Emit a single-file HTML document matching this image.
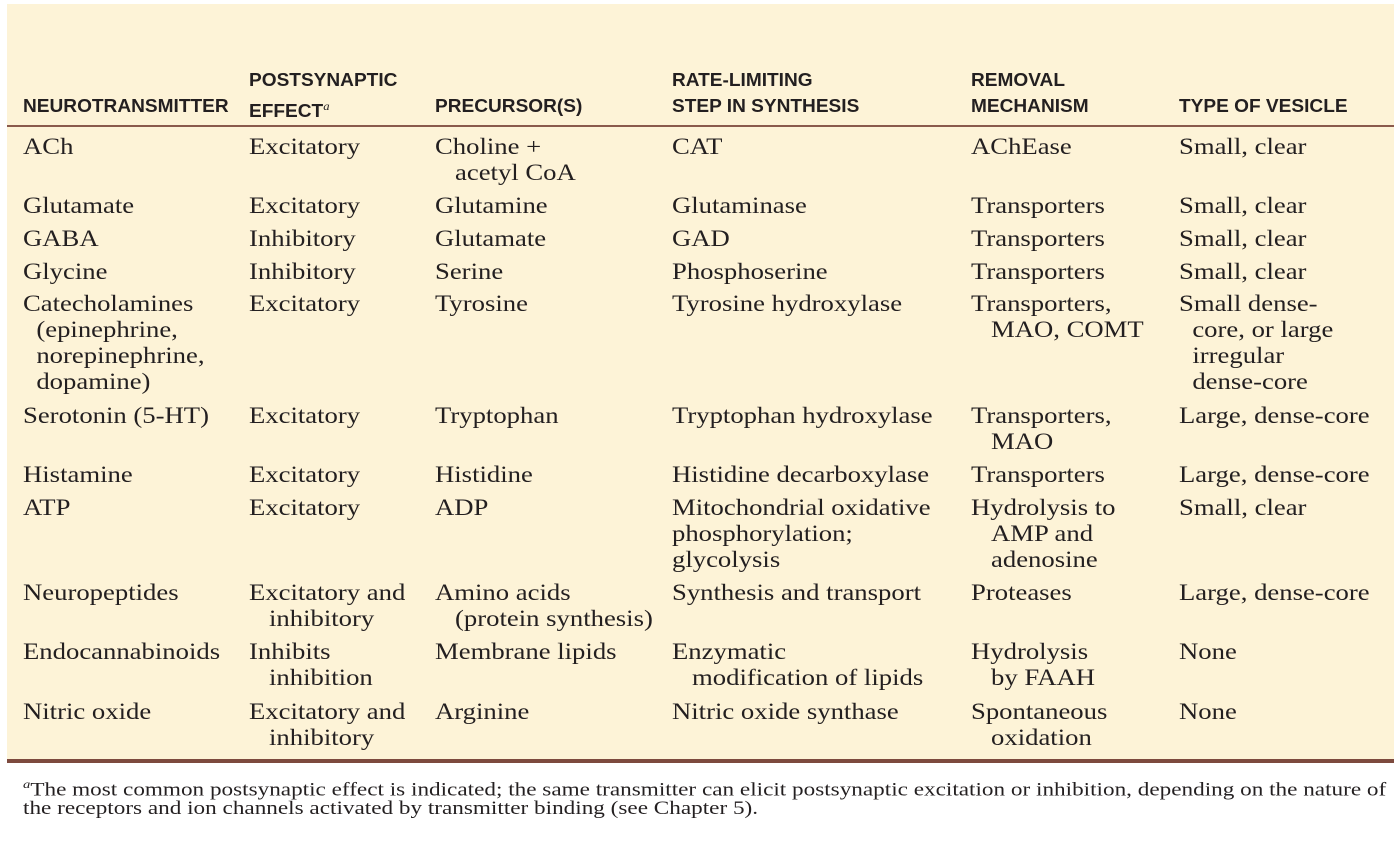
<!DOCTYPE html>
<html><head><meta charset="utf-8"><style>
body{margin:0;width:1400px;height:844px;background:#fff;position:relative;overflow:hidden;font-family:"Liberation Serif",serif;color:#222}
.bg{position:absolute;left:7px;top:4px;width:1387px;height:756px;background:#fdf3d7}
.h{position:absolute;font-family:"Liberation Sans",sans-serif;font-weight:bold;font-size:18px;line-height:26px;color:#231f20;white-space:nowrap;transform:scaleX(1.06);transform-origin:0 0}
.t{position:absolute;font-size:23px;line-height:26px;white-space:nowrap;color:#231f20;transform:scaleX(1.16);transform-origin:0 0}
.f{position:absolute;font-size:19px;line-height:23px;left:23px;white-space:nowrap;color:#231f20;transform:scaleX(1.22);transform-origin:0 0}
.l1{position:absolute;left:7px;top:125px;width:1387px;height:2px;background:#8a5a4c}
.l2{position:absolute;left:7px;top:759px;width:1387px;height:4px;background:#7d4a3e}
</style></head><body>
<div class="bg"></div>
<div class="h" style="left:23px;top:93px">NEUROTRANSMITTER</div>
<div class="h" style="left:249px;top:67px">POSTSYNAPTIC<br>EFFECT<sup style="font-size:12px;font-style:italic;font-weight:normal;font-family:'Liberation Serif',serif">a</sup></div>
<div class="h" style="left:435px;top:93px">PRECURSOR(S)</div>
<div class="h" style="left:672px;top:67px">RATE-LIMITING<br>STEP IN SYNTHESIS</div>
<div class="h" style="left:971px;top:67px">REMOVAL<br>MECHANISM</div>
<div class="h" style="left:1179px;top:93px">TYPE OF VESICLE</div>
<div class="l1"></div>

<div class="t" style="left:23px;top:134px">ACh</div>
<div class="t" style="left:249px;top:134px">Excitatory</div>
<div class="t" style="left:435px;top:134px">Choline +<br>&nbsp;&nbsp;&nbsp;acetyl CoA</div>
<div class="t" style="left:672px;top:134px">CAT</div>
<div class="t" style="left:971px;top:134px">AChEase</div>
<div class="t" style="left:1179px;top:134px">Small, clear</div>

<div class="t" style="left:23px;top:193px">Glutamate</div>
<div class="t" style="left:249px;top:193px">Excitatory</div>
<div class="t" style="left:435px;top:193px">Glutamine</div>
<div class="t" style="left:672px;top:193px">Glutaminase</div>
<div class="t" style="left:971px;top:193px">Transporters</div>
<div class="t" style="left:1179px;top:193px">Small, clear</div>

<div class="t" style="left:23px;top:226px">GABA</div>
<div class="t" style="left:249px;top:226px">Inhibitory</div>
<div class="t" style="left:435px;top:226px">Glutamate</div>
<div class="t" style="left:672px;top:226px">GAD</div>
<div class="t" style="left:971px;top:226px">Transporters</div>
<div class="t" style="left:1179px;top:226px">Small, clear</div>

<div class="t" style="left:23px;top:259px">Glycine</div>
<div class="t" style="left:249px;top:259px">Inhibitory</div>
<div class="t" style="left:435px;top:259px">Serine</div>
<div class="t" style="left:672px;top:259px">Phosphoserine</div>
<div class="t" style="left:971px;top:259px">Transporters</div>
<div class="t" style="left:1179px;top:259px">Small, clear</div>

<div class="t" style="left:23px;top:291px">Catecholamines<br>&nbsp;&nbsp;(epinephrine,<br>&nbsp;&nbsp;norepinephrine,<br>&nbsp;&nbsp;dopamine)</div>
<div class="t" style="left:249px;top:291px">Excitatory</div>
<div class="t" style="left:435px;top:291px">Tyrosine</div>
<div class="t" style="left:672px;top:291px">Tyrosine hydroxylase</div>
<div class="t" style="left:971px;top:291px">Transporters,<br>&nbsp;&nbsp;&nbsp;MAO, COMT</div>
<div class="t" style="left:1179px;top:291px">Small dense-<br>&nbsp;&nbsp;core, or large<br>&nbsp;&nbsp;irregular<br>&nbsp;&nbsp;dense-core</div>

<div class="t" style="left:23px;top:403px">Serotonin (5-HT)</div>
<div class="t" style="left:249px;top:403px">Excitatory</div>
<div class="t" style="left:435px;top:403px">Tryptophan</div>
<div class="t" style="left:672px;top:403px">Tryptophan hydroxylase</div>
<div class="t" style="left:971px;top:403px">Transporters,<br>&nbsp;&nbsp;&nbsp;MAO</div>
<div class="t" style="left:1179px;top:403px">Large, dense-core</div>

<div class="t" style="left:23px;top:462px">Histamine</div>
<div class="t" style="left:249px;top:462px">Excitatory</div>
<div class="t" style="left:435px;top:462px">Histidine</div>
<div class="t" style="left:672px;top:462px">Histidine decarboxylase</div>
<div class="t" style="left:971px;top:462px">Transporters</div>
<div class="t" style="left:1179px;top:462px">Large, dense-core</div>

<div class="t" style="left:23px;top:495px">ATP</div>
<div class="t" style="left:249px;top:495px">Excitatory</div>
<div class="t" style="left:435px;top:495px">ADP</div>
<div class="t" style="left:672px;top:495px">Mitochondrial oxidative<br>phosphorylation;<br>glycolysis</div>
<div class="t" style="left:971px;top:495px">Hydrolysis to<br>&nbsp;&nbsp;&nbsp;AMP and<br>&nbsp;&nbsp;&nbsp;adenosine</div>
<div class="t" style="left:1179px;top:495px">Small, clear</div>

<div class="t" style="left:23px;top:580px">Neuropeptides</div>
<div class="t" style="left:249px;top:580px">Excitatory and<br>&nbsp;&nbsp;&nbsp;inhibitory</div>
<div class="t" style="left:435px;top:580px">Amino acids<br>&nbsp;&nbsp;&nbsp;(protein synthesis)</div>
<div class="t" style="left:672px;top:580px">Synthesis and transport</div>
<div class="t" style="left:971px;top:580px">Proteases</div>
<div class="t" style="left:1179px;top:580px">Large, dense-core</div>

<div class="t" style="left:23px;top:639px">Endocannabinoids</div>
<div class="t" style="left:249px;top:639px">Inhibits<br>&nbsp;&nbsp;&nbsp;inhibition</div>
<div class="t" style="left:435px;top:639px">Membrane lipids</div>
<div class="t" style="left:672px;top:639px">Enzymatic<br>&nbsp;&nbsp;&nbsp;modification of lipids</div>
<div class="t" style="left:971px;top:639px">Hydrolysis<br>&nbsp;&nbsp;&nbsp;by FAAH</div>
<div class="t" style="left:1179px;top:639px">None</div>

<div class="t" style="left:23px;top:699px">Nitric oxide</div>
<div class="t" style="left:249px;top:699px">Excitatory and<br>&nbsp;&nbsp;&nbsp;inhibitory</div>
<div class="t" style="left:435px;top:699px">Arginine</div>
<div class="t" style="left:672px;top:699px">Nitric oxide synthase</div>
<div class="t" style="left:971px;top:699px">Spontaneous<br>&nbsp;&nbsp;&nbsp;oxidation</div>
<div class="t" style="left:1179px;top:699px">None</div>

<div class="l2"></div>
<div class="f" style="top:773px"><sup style="font-style:italic;font-size:12px">a</sup>The most common postsynaptic effect is indicated; the same transmitter can elicit postsynaptic excitation or inhibition, depending on the nature of</div>
<div class="f" style="top:797px">the receptors and ion channels activated by transmitter binding (see Chapter 5).</div>
</body></html>
